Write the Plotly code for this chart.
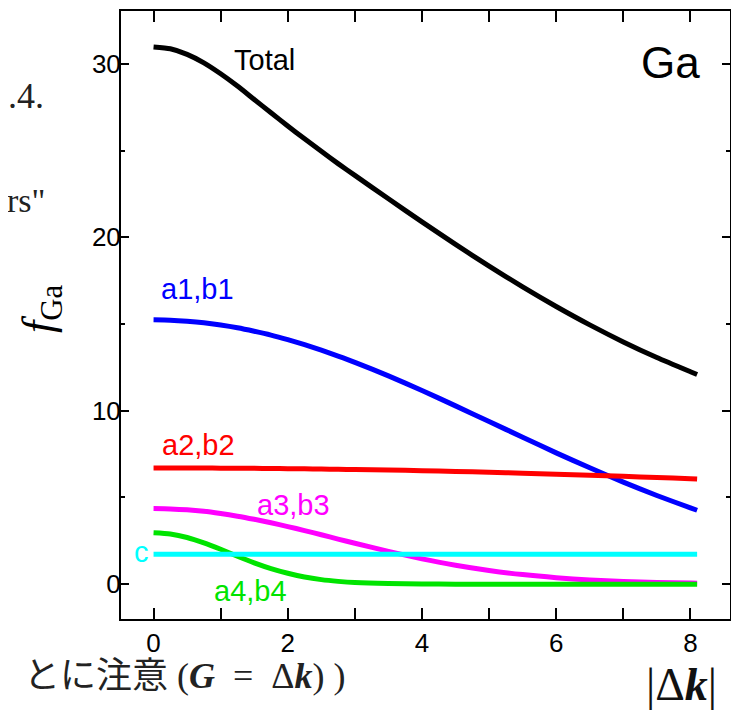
import plotly.graph_objects as go

# |Δk| sample positions
k = [0, 0.25, 0.5, 0.75, 1, 1.25, 1.5, 1.75, 2, 2.25, 2.5, 2.75, 3,
     3.5, 4, 4.5, 5, 5.5, 6, 6.5, 7, 7.5, 8, 8.1]

total = [30.98, 30.87, 30.55, 30.06, 29.43, 28.72, 27.95, 27.18, 26.42, 25.68, 24.96, 24.25, 23.57,
         22.22, 20.89, 19.59, 18.34, 17.14, 16.01, 14.95, 13.97, 13.07, 12.25, 12.09]
a1b1 = [15.24, 15.22, 15.16, 15.07, 14.94, 14.78, 14.58, 14.36, 14.10, 13.81, 13.49, 13.15, 12.79,
        12.01, 11.17, 10.28, 9.38, 8.47, 7.57, 6.71, 5.88, 5.11, 4.40, 4.26]
a2b2 = [6.70, 6.70, 6.70, 6.70, 6.69, 6.69, 6.68, 6.67, 6.66, 6.65, 6.64, 6.62, 6.61,
        6.58, 6.54, 6.50, 6.45, 6.40, 6.34, 6.28, 6.22, 6.15, 6.08, 6.06]
a3b3 = [4.36, 4.34, 4.29, 4.20, 4.07, 3.92, 3.74, 3.54, 3.32, 3.09, 2.85, 2.60, 2.36,
        1.89, 1.46, 1.09, 0.79, 0.55, 0.37, 0.24, 0.15, 0.09, 0.06, 0.05]
a4b4 = [2.96, 2.89, 2.69, 2.38, 2.01, 1.61, 1.23, 0.90, 0.63, 0.41, 0.26, 0.16, 0.09,
        0.03, 0.01, 0.0, 0.0, 0.0, 0.0, 0.0, 0.0, 0.0, 0.0, 0.0]
c_val = [1.72] * len(k)

x_ticks = [0, 2, 4, 6, 8]
y_ticks = [0, 10, 20, 30]

BLACK, BLUE, RED, MAG, GREEN, CYAN = "#000000", "#0000ff", "#ff0000", "#ff00ff", "#00e400", "#00ffff"
LW = 5

fig = go.Figure()
series = [
    (total, BLACK, "Total"),
    (a1b1, BLUE, "a1,b1"),
    (a2b2, RED, "a2,b2"),
    (a3b3, MAG, "a3,b3"),
    (a4b4, GREEN, "a4,b4"),
    (c_val, CYAN, "c"),
]
for ys, col, name in series:
    fig.add_trace(go.Scatter(x=k, y=ys, mode="lines", name=name,
                             line=dict(color=col, width=LW, shape="spline", smoothing=0.6),
                             showlegend=False, hoverinfo="skip"))

SANS = "Liberation Sans, Arial, Helvetica, sans-serif"
SERIF = "Liberation Serif, Times New Roman, serif"
NB = "\u00a0"

labels = [
    ("Total", 1.66, 30.25, BLACK, 29),
    ("Ga", 7.70, 30.1, BLACK, 44),
    ("a1,b1", 0.65, 17.0, BLUE, 29),
    ("a2,b2", 0.665, 8.05, RED, 29),
    ("a3,b3", 2.09, 4.55, MAG, 29),
    ("c", -0.18, 1.85, CYAN, 29),
    ("a4,b4", 1.44, -0.40, GREEN, 29),
]
anns = []
for txt, x, y, col, sz in labels:
    anns.append(dict(text=txt, x=x, y=y, xref="x", yref="y", showarrow=False,
                     xanchor="center", yanchor="middle",
                     font=dict(family=SANS, size=sz, color=col)))


def px(xp):
    return (xp - 121) / 609


def py(yp):
    return (619 - yp) / 610


# axis title f_Ga
anns.append(dict(text="<i>f</i><sub>Ga</sub>",
                 x=px(41), y=py(308), xref="paper", yref="paper",
                 showarrow=False, textangle=-90, xanchor="center", yanchor="middle",
                 font=dict(family=SERIF, size=44, color="black")))
# surrounding page text
anns.append(dict(text=".4.", x=px(46), y=py(94), xref="paper", yref="paper",
                 showarrow=False, xanchor="right", yanchor="middle",
                 font=dict(family=SERIF, size=36, color="#222")))
anns.append(dict(text="rs\"", x=px(47), y=py(199), xref="paper", yref="paper",
                 showarrow=False, xanchor="right", yanchor="middle",
                 font=dict(family=SERIF, size=34, color="#222")))
anns.append(dict(text="とに注意 (<b><i>G</i></b>" + NB + " = " + NB + "Δ<b><i>k</i></b>) )",
                 x=px(347), y=py(676), xref="paper", yref="paper",
                 showarrow=False, xanchor="right", yanchor="middle",
                 font=dict(family=SERIF + ", Noto Sans CJK JP", size=36, color="#222")))
anns.append(dict(text="|Δ<b><i>k</i></b>|", x=px(681), y=py(685),
                 xref="paper", yref="paper", showarrow=False, xanchor="center", yanchor="middle",
                 font=dict(family=SERIF, size=46, color="#111")))

axis_common = dict(showline=True, linecolor="black", linewidth=2, mirror="ticks",
                   ticks="inside", tickcolor="black", tickwidth=1.5, showgrid=False,
                   zeroline=False, tickfont=dict(family=SANS, size=26, color="black"))

fig.update_layout(
    width=739, height=710,
    margin=dict(l=113, r=17, t=1, b=99),
    paper_bgcolor="white", plot_bgcolor="white",
    xaxis=dict(range=[-0.485, 8.59], tickvals=x_ticks, ticklen=11,
               minor=dict(dtick=1, tick0=0, ticks="inside", ticklen=11, tickcolor="black", tickwidth=1.5),
               **axis_common),
    yaxis=dict(range=[-2.01, 33.05], tickvals=y_ticks, ticklen=8, ticklabelstandoff=-7,
               minor=dict(dtick=5, tick0=0, ticks="inside", ticklen=4, tickcolor="black", tickwidth=1.5),
               **axis_common),
    annotations=anns,
)

fig.write_html("out.html")
